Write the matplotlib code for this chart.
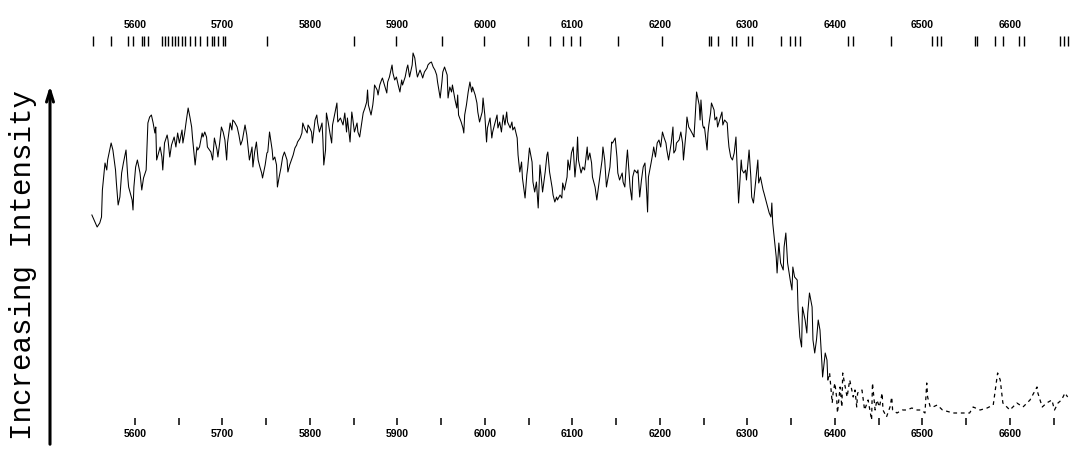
import numpy as np
import matplotlib.pyplot as plt

wavelength = [
    5551, 5557, 5560, 5562, 5563, 5566, 5568, 5569, 5573, 5575, 5578, 5579,
    5581, 5583, 5585, 5587, 5590, 5592, 5593, 5597, 5598, 5599, 5601, 5603,
    5606, 5608, 5610, 5613, 5614, 5615, 5617, 5619, 5621, 5623, 5624, 5625,
    5629, 5631, 5632, 5634, 5637, 5638, 5640, 5642, 5645, 5647, 5649, 5651,
    5654, 5655, 5657, 5659, 5661, 5663, 5665, 5666, 5669, 5671, 5672, 5674,
    5677, 5678, 5680, 5682, 5683, 5687, 5689, 5691, 5694, 5695, 5697, 5699,
    5701, 5703, 5705, 5706, 5709, 5711, 5712, 5714, 5717, 5719, 5721, 5723,
    5726, 5728, 5729, 5731, 5734, 5735, 5737, 5739, 5741, 5743, 5745, 5746,
    5749, 5751, 5752, 5754, 5757, 5758, 5760, 5762, 5763, 5765, 5767, 5769,
    5771, 5774, 5775, 5777, 5779, 5781, 5783, 5785, 5786, 5789, 5791, 5792,
    5794, 5797, 5798, 5800, 5802, 5803, 5806, 5808, 5809, 5811, 5814, 5815,
    5816, 5818, 5819, 5821, 5823, 5825, 5826,
    5829, 5831, 5832, 5835, 5838, 5840, 5842, 5843, 5846, 5848, 5849, 5851,
    5854, 5855, 5857, 5859, 5861, 5863, 5865, 5866, 5867, 5870, 5872, 5873,
    5874, 5877, 5878, 5880, 5882, 5883, 5886, 5888, 5889, 5891, 5894, 5895,
    5897, 5899, 5901, 5903, 5905, 5906, 5909, 5911, 5912, 5914, 5917, 5918,
    5920, 5922, 5923, 5926, 5928, 5929, 5931, 5934, 5935, 5937, 5939, 5941,
    5943, 5945, 5946, 5949, 5951, 5952, 5954, 5957, 5958, 5960, 5962, 5963,
    5966, 5968, 5969, 5970, 5973, 5975, 5976, 5977, 5979, 5981, 5983, 5985,
    5986, 5989, 5991, 5992, 5994, 5997, 5998, 6000, 6002, 6003, 6006, 6008,
    6009, 6011, 6014, 6015, 6017, 6019, 6021, 6023, 6025, 6026, 6029, 6031,
    6032, 6034, 6037, 6038, 6040, 6042, 6043, 6046, 6048, 6049, 6051, 6054,
    6055, 6057, 6059, 6061, 6063, 6065, 6066, 6069, 6071, 6072, 6074, 6077,
    6078, 6080, 6082, 6083, 6086,
    6088, 6089, 6091, 6094, 6095, 6097, 6099, 6101, 6103, 6105, 6106, 6107,
    6110, 6112, 6114, 6117, 6118, 6120, 6122, 6123, 6126, 6128, 6129, 6131,
    6134, 6135, 6137, 6139, 6141, 6143, 6145, 6146, 6149, 6151, 6152, 6154,
    6157, 6158, 6160, 6162, 6163, 6166, 6168, 6169, 6171, 6174, 6175, 6177,
    6179, 6181, 6183, 6185, 6186, 6187, 6190, 6192, 6193, 6195, 6197, 6199,
    6201, 6203, 6205, 6207, 6208, 6210, 6213, 6215, 6216, 6218, 6219, 6222,
    6224, 6226, 6227, 6230, 6231, 6233, 6235, 6238, 6239, 6240, 6241, 6242,
    6245, 6246, 6247, 6249, 6250, 6251, 6254, 6255, 6256, 6258, 6259, 6262,
    6263, 6265, 6266, 6269, 6271, 6272, 6274, 6277, 6278, 6279, 6281, 6283,
    6285, 6287, 6288, 6290, 6293, 6294, 6296, 6298, 6299, 6302, 6304, 6305,
    6307, 6310, 6312, 6313, 6315, 6318, 6319, 6322, 6325, 6327, 6328, 6329,
    6331,
    6333, 6334, 6336, 6338, 6341, 6342, 6344, 6346, 6349, 6351, 6352, 6354,
    6357, 6358, 6360, 6362, 6363, 6366, 6368, 6369, 6371, 6374, 6375, 6377,
    6379, 6381, 6383, 6385, 6386, 6389, 6391, 6392,
    6394, 6397, 6398, 6400, 6402, 6403, 6406, 6408, 6409, 6411, 6414, 6417,
    6421, 6423, 6425, 6426, 6431, 6434, 6438, 6442, 6443, 6446, 6448, 6451,
    6454, 6455, 6459, 6463, 6465, 6466, 6471, 6477, 6482, 6488, 6494, 6499,
    6503, 6505, 6506, 6509, 6512, 6517, 6523, 6535, 6543, 6554, 6558, 6566,
    6574, 6581, 6586, 6589, 6592, 6600, 6608, 6615, 6623, 6631, 6632, 6637,
    6642, 6648, 6651, 6655, 6659, 6663, 6666,
]

intensity = [
    205, 193, 197, 203, 230, 257, 250, 260, 277, 270, 250, 237,
    215, 223, 247, 257, 270, 243, 233, 220, 210, 233, 253, 260,
    247, 230, 242, 250, 275, 297, 303, 305, 297, 287, 293, 260,
    273, 263, 250, 277, 285, 280, 263, 275, 283, 273, 287, 277,
    290, 277, 287, 300, 312, 303, 293, 282, 255, 273, 270, 273,
    287, 283, 288, 283, 273, 268, 260, 282, 270, 263, 277, 293,
    288, 280, 260, 277, 297, 290, 300, 298, 293, 285, 275, 280,
    295, 285, 277, 260, 273, 253, 268, 278, 260, 253, 247, 242,
    255, 267, 268, 288, 270, 260, 263, 255, 233, 243, 252, 263,
    268, 260, 248, 255, 260, 265, 272, 275, 278, 282, 287, 297,
    292, 287, 295, 292, 288, 277, 300, 305, 297, 288, 297, 280,
    255, 270, 307, 298, 287, 277, 295,
    308, 317, 298, 302, 295, 307, 288, 302, 278, 308, 302, 288,
    297, 288, 283, 295, 307, 312, 318, 330, 315, 305, 315, 323,
    335, 330, 325, 335, 340, 342, 333, 327, 338, 343, 355, 347,
    340, 343, 335, 328, 340, 335, 343, 352, 355, 343, 355, 367,
    362, 348, 343, 350, 345, 342, 348, 352, 355, 357, 358, 353,
    350, 345, 338, 322, 338, 348, 353, 345, 322, 333, 328, 335,
    320, 312, 325, 305, 298, 292, 287, 305, 315, 328, 338, 328,
    333, 325, 317, 308, 298, 308, 322, 305, 278, 292, 302, 282,
    288, 295, 305, 292, 298, 288, 305, 295, 308, 298, 292, 298,
    290, 293, 282, 265, 248, 258, 242, 222, 245, 252, 272, 258,
    238, 228, 238, 212, 255, 238, 228, 248, 265, 268, 248, 232,
    225, 218, 223, 220, 225,
    222, 237, 230, 243, 260, 250, 267, 273, 243, 263, 283, 260,
    247, 253, 250, 273, 260, 267, 257, 243, 233, 220, 227, 240,
    260, 273, 260, 233, 243, 253, 278, 277, 282, 263, 247, 240,
    247, 238, 233, 260, 270, 233, 220, 243, 250, 247, 250, 223,
    240, 253, 257, 227, 208, 243, 257, 267, 273, 263, 277, 280,
    273, 288, 282, 277, 270, 260, 277, 293, 267, 270, 277, 280,
    288, 277, 260, 288, 303, 293, 290, 285, 283, 297, 313, 328,
    315, 300, 320, 295, 292, 293, 270, 287, 295, 307, 317, 310,
    300, 303, 293, 302, 308, 295, 300, 297, 283, 273, 263, 260,
    267, 283, 260, 217, 260, 250, 247, 250, 240, 270, 243, 223,
    217, 243, 260, 237, 243, 230, 227, 217, 207, 203, 217, 197,
    180,
    163, 147, 177, 157, 150, 173, 187, 157, 140, 130, 153, 143,
    140, 110, 83, 73, 113, 100, 87, 107, 127, 113, 80, 67,
    80, 100, 90, 60, 43, 67, 60, 40,
    47, 17, 27, 37, 23, 7, 33, 13, 47, 37, 23, 40,
    23, 30, 13, 27, 30, 10, 20, 0, 37, 10, 20, 13,
    27, 10, 3, 13, 23, 10, 7, 10, 10, 12, 10, 10,
    7, 37, 23, 13, 13, 15, 10, 7, 7, 7, 13, 10,
    12, 15, 47, 40, 17, 10, 17, 13, 20, 33, 27, 13,
    17, 20, 10, 17, 20, 27, 23,
]

# comparison spectrum lines marked along the top
comparison_lines = [
    5552, 5573, 5592, 5598, 5608, 5611, 5615, 5631, 5634, 5638, 5642, 5646,
    5649, 5654, 5657, 5663, 5669, 5674, 5682, 5688, 5691, 5695, 5701, 5703,
    5751, 5800, 5851, 5899, 5951, 5999, 6049, 6074, 6089, 6099, 6109, 6152,
    6202, 6256, 6259, 6266, 6282, 6287, 6301, 6305, 6339, 6349, 6354, 6360,
    6415, 6421, 6464, 6511, 6517, 6521, 6560, 6563, 6583, 6592, 6611, 6616,
    6657, 6662, 6666,
]

label_waves = list(range(5600, 6700, 100))
half_waves = list(range(5650, 6700, 100))
tail_start = 6392

fig = plt.figure(figsize=(10.72, 4.5), dpi=100)
ax = fig.add_axes([0, 32 / 450, 1, 382 / 450])
ax.set_xlim(5446, 6671)
ax.set_ylim(2, 384)

wl = np.array(wavelength)
inten = np.array(intensity)
body = wl <= tail_start
tail = wl >= tail_start
ax.plot(wl[body], inten[body], color='black', lw=0.75)
ax.plot(wl[tail], inten[tail], color='black', lw=0.9, ls=(0, (3, 3)), clip_on=False)

for s in ax.spines.values():
    s.set_visible(False)
ax.set_yticks([])
ax.set_xticks(label_waves)
ax.set_xticks(half_waves, minor=True)
ax.tick_params(axis='x', which='both', direction='out', length=5, width=1.1,
               color='black', pad=3)
for lab in ax.get_xticklabels():
    lab.set_fontsize(7.5)
    lab.set_fontweight('bold')
    lab.set_family('Liberation Sans')

top = ax.twiny()
top.set_xlim(ax.get_xlim())
for s in top.spines.values():
    s.set_visible(False)
top.set_xticks(label_waves)
top.set_xticks(comparison_lines, minor=True)
top.tick_params(axis='x', which='major', length=0, pad=4)
top.tick_params(axis='x', which='minor', direction='in', length=7, width=1.0,
                color='black')
for lab in top.get_xticklabels():
    lab.set_fontsize(7.5)
    lab.set_fontweight('bold')
    lab.set_family('Liberation Sans')

fig.text(0.021, 0.41, 'Increasing Intensity', rotation=90, family='Liberation Mono',
         fontsize=21, ha='center', va='center')
ax.annotate('', xy=(50 / 1072, 1 - 83 / 450), xytext=(50 / 1072, 1 - 447 / 450),
            xycoords='figure fraction', textcoords='figure fraction',
            annotation_clip=False,
            arrowprops=dict(arrowstyle='->,head_length=0.8,head_width=0.25',
                            lw=2.2, color='black'))

fig.savefig('out.png', dpi=100)
